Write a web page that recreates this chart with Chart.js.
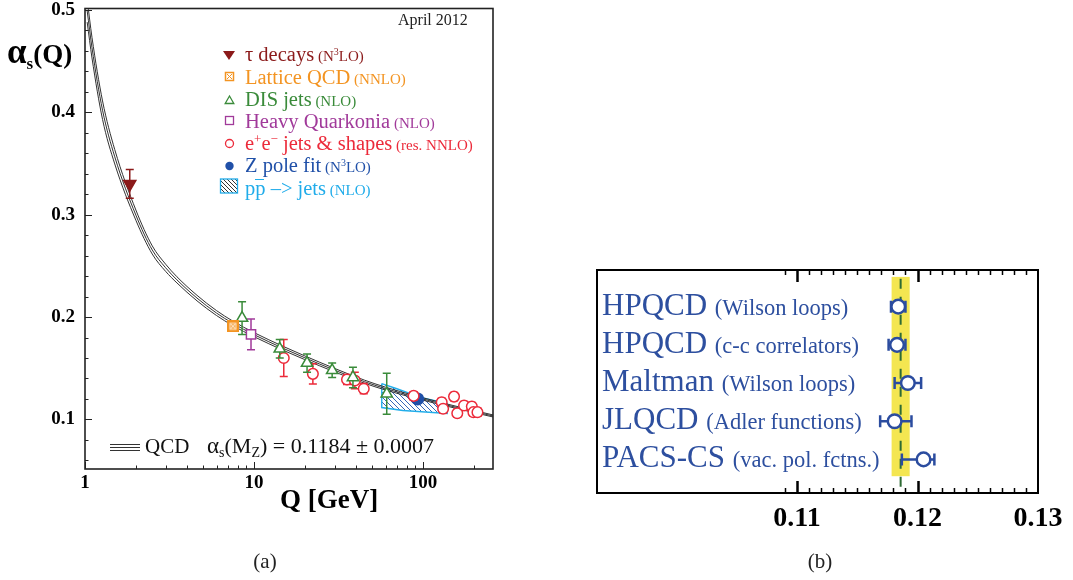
<!DOCTYPE html>
<html>
<head>
<meta charset="utf-8">
<script src="https://cdn.jsdelivr.net/npm/chart.js@4.4.1/dist/chart.umd.min.js"></script>
<style>
  body { margin: 0; background: #fff; width: 1073px; height: 580px; position: relative; overflow: hidden; }
  canvas { position: absolute; }
  #runChart { left: 0; top: 0; }
  #latticeChart { left: 560px; top: 250px; }
  #overlay { position: absolute; left: 0; top: 0; pointer-events: none; font-family: 'Liberation Serif', serif; }
</style>
</head>
<body>
<canvas id="runChart" width="520" height="530"></canvas>
<canvas id="latticeChart" width="513" height="290"></canvas>

<svg id="overlay" width="1073" height="580" xmlns="http://www.w3.org/2000/svg">
  <defs>
    <pattern id="legendHatch" width="4" height="4" patternUnits="userSpaceOnUse">
      <path d="M0 0 L4 4 M-1 3 L1 5 M3 -1 L5 1" stroke="#333" stroke-width="1"/>
    </pattern>
  </defs>

  <!-- axis titles -->
  <text x="7" y="63" font-weight="bold" fill="#000"><tspan font-size="35">α</tspan><tspan font-size="17" dy="6">s</tspan><tspan font-size="27" dy="-6">(Q)</tspan></text>
  <text x="280" y="508" font-size="27" font-weight="bold" fill="#000">Q [GeV]</text>
  <text x="398" y="25" font-size="16" fill="#222">April 2012</text>

  <!-- legend -->
  <polygon points="223,51 235,51 229,60" fill="#8b1a1a"/>
  <text x="245" y="61" fill="#8b1a1a"><tspan font-size="20.5">τ decays</tspan><tspan font-size="15"> (N</tspan><tspan font-size="10" dy="-6">3</tspan><tspan font-size="15" dy="6">LO)</tspan></text>

  <rect x="225.5" y="72.5" width="8" height="8" fill="none" stroke="#f39422" stroke-width="1.5"/>
  <path d="M227 74 L232 79 M232 74 L227 79" stroke="#f39422" stroke-width="1"/>
  <text x="245" y="84" fill="#f39422"><tspan font-size="20.5">Lattice QCD</tspan><tspan font-size="15"> (NNLO)</tspan></text>

  <polygon points="229.5,96 233.8,103.5 225.2,103.5" fill="none" stroke="#3a8b3a" stroke-width="1.3"/>
  <text x="245" y="105.5" fill="#3a8b3a"><tspan font-size="20.5">DIS jets</tspan><tspan font-size="15"> (NLO)</tspan></text>

  <rect x="225.5" y="116.5" width="8" height="8" fill="none" stroke="#a13a9a" stroke-width="1.3"/>
  <text x="245" y="128" fill="#a13a9a"><tspan font-size="20.5">Heavy Quarkonia</tspan><tspan font-size="15"> (NLO)</tspan></text>

  <circle cx="229.5" cy="143.5" r="4" fill="none" stroke="#ec2a3a" stroke-width="1.3"/>
  <text x="245" y="150" fill="#ec2a3a"><tspan font-size="20.5">e</tspan><tspan font-size="13" dy="-7">+</tspan><tspan font-size="20.5" dy="7">e</tspan><tspan font-size="13" dy="-7">−</tspan><tspan font-size="20.5" dy="7">  jets &amp; shapes</tspan><tspan font-size="15"> (res. NNLO)</tspan></text>

  <circle cx="229.5" cy="166" r="4.2" fill="#2050a8"/>
  <text x="245" y="172" fill="#2050a8"><tspan font-size="20.5">Z pole fit</tspan><tspan font-size="15"> (N</tspan><tspan font-size="10" dy="-6">3</tspan><tspan font-size="15" dy="6">LO)</tspan></text>

  <rect x="220.5" y="179" width="17" height="14" fill="url(#legendHatch)" stroke="#20acea" stroke-width="1.3"/>
  <line x1="255" y1="179.5" x2="264" y2="179.5" stroke="#20acea" stroke-width="1"/>
  <text x="245" y="195" fill="#20acea"><tspan font-size="20.5">pp –&gt; jets</tspan><tspan font-size="15"> (NLO)</tspan></text>

  <!-- curve key -->
  <path d="M110 444.5 H140 M110 447.5 H140 M110 450.5 H140" stroke="#333" stroke-width="1"/>
  <text x="145" y="453" font-size="21" fill="#111">QCD</text>
  <text x="207" y="453" fill="#111"><tspan font-size="23">α</tspan><tspan font-size="14" dy="4">s</tspan><tspan font-size="22" dy="-4">(M</tspan><tspan font-size="14" dy="4">Z</tspan><tspan font-size="22" dy="-4">) = 0.1184 ± 0.0007</tspan></text>

  <!-- captions -->
  <text x="265" y="568" font-size="21" text-anchor="middle" fill="#222">(a)</text>
  <text x="820" y="568" font-size="21" text-anchor="middle" fill="#222">(b)</text>

  <g id="latticeLabels"></g>
</svg>

<script>
// ---- panel (a): running coupling ----
const qcdQ   = [1.03, 1.1, 1.27, 1.5, 2.0, 2.5, 3.0, 3.5, 4.6, 6.0, 7.5, 10, 15, 20, 30, 45, 60, 91, 130, 180, 259.5];
const qcdUp  = [0.510, 0.473, 0.411, 0.3635, 0.3045, 0.2695, 0.2516, 0.2393, 0.2212, 0.2063, 0.1960, 0.1848, 0.1711, 0.1620, 0.1498, 0.1384, 0.1315, 0.1229, 0.1162, 0.1105, 0.1044];
const qcdMid = [0.499, 0.463, 0.402, 0.3565, 0.2995, 0.2655, 0.2481, 0.2363, 0.2185, 0.2039, 0.1938, 0.1828, 0.1692, 0.1602, 0.1481, 0.1369, 0.1301, 0.1217, 0.1151, 0.1095, 0.1034];
const qcdLow = [0.488, 0.453, 0.393, 0.3495, 0.2945, 0.2615, 0.2446, 0.2333, 0.2158, 0.2015, 0.1916, 0.1808, 0.1673, 0.1584, 0.1464, 0.1354, 0.1287, 0.1205, 0.1140, 0.1085, 0.1024];

const tauQ = [1.84],  tauAlpha = [0.330], tauErr = [0.014];
const latQ = [7.5],   latAlpha = [0.191];
const disQ = [8.5, 14.2, 20.6, 29.0, 38.5, 61];
const disAlpha = [0.199, 0.169, 0.155, 0.148, 0.141, 0.125];
const disErr = [0.016, 0.009, 0.009, 0.007, 0.010, 0.020];
const hqQ = [9.6], hqAlpha = [0.183], hqErr = [0.015];
const eeQ = [15.0, 22.3, 35.5, 39.5, 44.6, 88, 129, 131.5, 152.6, 159.5, 175, 194.5, 198.7, 210];
const eeAlpha = [0.160, 0.1445, 0.139, 0.138, 0.130, 0.123, 0.1168, 0.1104, 0.1223, 0.1061, 0.1136, 0.1126, 0.1071, 0.1071];
const eeErr = [0.018, 0.010, 0.005, 0.008, 0.005, 0.004, 0.004, 0.004, 0.004, 0.004, 0.004, 0.004, 0.004, 0.004];
const zQ = [93], zAlpha = [0.120];

// pp-bar jets band (upper and lower edge)
const ppUpQ = [57, 70, 82, 100, 139];
const ppUpAlpha = [0.135, 0.130, 0.126, 0.121, 0.1155];
const ppLowQ = [57, 76, 139];
const ppLowAlpha = [0.1116, 0.1087, 0.1058];

const runXTicks = [1, 10, 100];
const runYTicks = [0.1, 0.2, 0.3, 0.4, 0.5];

// ---- panel (b): lattice results ----
const latNames = ['HPQCD', 'HPQCD', 'Maltman', 'JLQCD', 'PACS-CS'];
const latNotes = ['(Wilson loops)', '(c-c correlators)', '(Wilson loops)', '(Adler functions)', '(vac. pol. fctns.)'];
const latValues = [0.1184, 0.1183, 0.1192, 0.1181, 0.1205];
const latErrLow = [0.0006, 0.0007, 0.0011, 0.0012, 0.0018];
const latErrHigh = [0.0006, 0.0007, 0.0011, 0.0014, 0.0009];
const latAverage = 0.1186, latAverageErr = 0.00075;
const latXTicks = [0.11, 0.12, 0.13];

Chart.defaults.font.family = "'Liberation Serif', serif";
Chart.defaults.color = '#000';

const xy = (xs, ys) => xs.map((x, i) => ({ x: x, y: ys[i] }));

function hatchPattern(color) {
  const c = document.createElement('canvas');
  c.width = 5; c.height = 5;
  const g = c.getContext('2d');
  g.strokeStyle = color;
  g.lineWidth = 1;
  g.beginPath();
  g.moveTo(0, 0); g.lineTo(5, 5);
  g.moveTo(-1, 4); g.lineTo(1, 6);
  g.moveTo(4, -1); g.lineTo(6, 1);
  g.stroke();
  return g.createPattern(c, 'repeat');
}

function latticeMarker() {
  const c = document.createElement('canvas');
  c.width = 12; c.height = 12;
  const g = c.getContext('2d');
  g.fillStyle = '#f39422';
  g.fillRect(0, 0, 12, 12);
  g.strokeStyle = '#fde3c4';
  g.lineWidth = 1.1;
  g.strokeRect(3, 3, 6, 6);
  g.beginPath();
  g.moveTo(3.5, 3.5); g.lineTo(8.5, 8.5);
  g.moveTo(8.5, 3.5); g.lineTo(3.5, 8.5);
  g.stroke();
  return c;
}

// error bars, drawn just before the markers of their dataset
const errorBars = {
  id: 'errorBars',
  beforeDatasetDraw(chart, args) {
    const ds = chart.data.datasets[args.index];
    if (!ds.errLow) return;
    const xs = chart.scales.x, ys = chart.scales.y, ctx = chart.ctx;
    const cap = ds.capSize || 4;
    ctx.save();
    ctx.strokeStyle = ds.errColor || ds.borderColor;
    ctx.lineWidth = ds.errWidth || 1.5;
    ds.data.forEach((p, i) => {
      ctx.beginPath();
      if (ds.errAxis === 'x') {
        const y = ys.getPixelForValue(p.y);
        const x1 = xs.getPixelForValue(p.x - ds.errLow[i]);
        const x2 = xs.getPixelForValue(p.x + ds.errHigh[i]);
        ctx.moveTo(x1, y); ctx.lineTo(x2, y);
        ctx.moveTo(x1, y - cap); ctx.lineTo(x1, y + cap);
        ctx.moveTo(x2, y - cap); ctx.lineTo(x2, y + cap);
      } else {
        const x = xs.getPixelForValue(p.x);
        const y1 = ys.getPixelForValue(p.y - ds.errLow[i]);
        const y2 = ys.getPixelForValue(p.y + ds.errHigh[i]);
        ctx.moveTo(x, y1); ctx.lineTo(x, y2);
        ctx.moveTo(x - cap, y1); ctx.lineTo(x + cap, y1);
        ctx.moveTo(x - cap, y2); ctx.lineTo(x + cap, y2);
      }
      ctx.stroke();
    });
    ctx.restore();
  }
};

// frame with inward ticks for panel (a)
const runFrame = {
  id: 'runFrame',
  afterDraw(chart) {
    const { ctx, chartArea: a, scales: { x, y } } = chart;
    ctx.save();
    ctx.strokeStyle = '#222';
    ctx.lineWidth = 1;
    ctx.beginPath();
    for (let d = 1; d <= 100; d *= 10) {
      for (let k = 1; k < 10; k++) {
        const v = d * k;
        if (v > x.max) break;
        const px = Math.round(x.getPixelForValue(v)) + 0.5;
        const len = k === 1 ? 7 : 3.5;
        ctx.moveTo(px, a.bottom); ctx.lineTo(px, a.bottom - len);
      }
    }
    for (let i = 3; i <= 25; i++) {
      const py = Math.round(y.getPixelForValue(i * 0.02)) + 0.5;
      const len = i % 5 === 0 ? 7 : 3.5;
      ctx.moveTo(a.left, py); ctx.lineTo(a.left + len, py);
    }
    ctx.stroke();
    ctx.lineWidth = 1.6;
    ctx.strokeRect(a.left, a.top, a.right - a.left, a.bottom - a.top);
    ctx.restore();
  }
};

const curveStyle = { type: 'line', pointRadius: 0, borderWidth: 1, borderColor: '#333', fill: false, cubicInterpolationMode: 'monotone', order: 20 };
const markerStyle = { type: 'line', showLine: false, borderWidth: 1.5, backgroundColor: '#fff', order: 0 };

new Chart(document.getElementById('runChart'), {
  type: 'line',
  data: {
    datasets: [
      { ...markerStyle, data: xy(tauQ, tauAlpha), pointStyle: 'triangle', rotation: 180, pointRadius: 7,
        borderColor: '#8b1a1a', backgroundColor: '#8b1a1a', errLow: tauErr, errHigh: tauErr },
      { ...markerStyle, data: xy(latQ, latAlpha), pointStyle: latticeMarker(), borderColor: '#f39422' },
      { ...markerStyle, data: xy(disQ, disAlpha), pointStyle: 'triangle', pointRadius: 6.5,
        borderColor: '#3a8b3a', errLow: disErr, errHigh: disErr },
      { ...markerStyle, data: xy(hqQ, hqAlpha), pointStyle: 'rect', pointRadius: 6.5,
        borderColor: '#a13a9a', errLow: hqErr, errHigh: hqErr },
      { ...markerStyle, data: xy(eeQ, eeAlpha), pointStyle: 'circle', pointRadius: 5.3,
        borderColor: '#ec2a3a', errLow: eeErr, errHigh: eeErr },
      { ...markerStyle, data: xy(zQ, zAlpha), pointStyle: 'circle', pointRadius: 5.8,
        borderColor: '#2050a8', backgroundColor: '#2050a8' },
      { ...curveStyle, data: xy(qcdQ, qcdUp) },
      { ...curveStyle, data: xy(qcdQ, qcdMid) },
      { ...curveStyle, data: xy(qcdQ, qcdLow) },
      { type: 'line', data: xy(ppUpQ, ppUpAlpha), pointRadius: 0, borderWidth: 0, borderColor: 'rgba(0,0,0,0)',
        fill: '+1', backgroundColor: hatchPattern('#3566b8'), order: 30 },
      { type: 'line', data: xy(ppLowQ, ppLowAlpha), pointRadius: 0, borderWidth: 0, borderColor: 'rgba(0,0,0,0)',
        fill: false, order: 31 },
      { type: 'line', pointRadius: 0, borderWidth: 1.4, borderColor: '#22aeea', fill: false, order: 29,
        data: xy(ppUpQ.concat(ppLowQ.slice().reverse(), [ppUpQ[0]]),
                 ppUpAlpha.concat(ppLowAlpha.slice().reverse(), [ppUpAlpha[0]])) }
    ]
  },
  options: {
    responsive: false,
    animation: false,
    events: [],
    layout: { padding: { left: 0, top: 5, right: 27, bottom: 0 } },
    plugins: { legend: { display: false }, tooltip: { enabled: false } },
    scales: {
      x: {
        type: 'logarithmic', min: 1, max: 259.5,
        grid: { display: false, drawTicks: false }, border: { display: false },
        ticks: { font: { size: 19, weight: 'bold' }, padding: 3, autoSkip: false, maxRotation: 0, callback: v => String(v) },
        afterBuildTicks: s => { s.ticks = runXTicks.map(v => ({ value: v })); },
        afterFit: s => { s.height = 61; s.paddingLeft = 0; s.paddingRight = 0; }
      },
      y: {
        type: 'linear', min: 0.0516, max: 0.5013,
        grid: { display: false, drawTicks: false }, border: { display: false },
        ticks: { font: { size: 19, weight: 'bold' }, padding: 10, callback: v => v.toFixed(1) },
        afterBuildTicks: s => { s.ticks = runYTicks.map(v => ({ value: v })); },
        afterFit: s => { s.width = 85; s.paddingTop = 0; s.paddingBottom = 0; }
      }
    }
  },
  plugins: [errorBars, runFrame]
});

// shaded average and dashed centre line for panel (b)
const averageBand = {
  id: 'averageBand',
  beforeDatasetsDraw(chart) {
    const { ctx, chartArea: a, scales: { x, y } } = chart;
    const x1 = x.getPixelForValue(latAverage - latAverageErr);
    const x2 = x.getPixelForValue(latAverage + latAverageErr);
    const top = y.getPixelForValue(0.22), bottom = y.getPixelForValue(5.44);
    ctx.save();
    ctx.fillStyle = '#f4e651';
    ctx.fillRect(x1, top, x2 - x1, bottom - top);
    const xc = x.getPixelForValue(latAverage);
    ctx.strokeStyle = '#2e6b34';
    ctx.lineWidth = 2;
    ctx.setLineDash([10, 8]);
    ctx.beginPath();
    ctx.moveTo(xc, top + 2);
    ctx.lineTo(xc, a.bottom - 5);
    ctx.stroke();
    ctx.restore();
  }
};

const latFrame = {
  id: 'latFrame',
  afterDraw(chart) {
    const { ctx, chartArea: a, scales: { x } } = chart;
    ctx.save();
    ctx.strokeStyle = '#000';
    for (let i = 109; i <= 129; i++) {
      const major = i % 10 === 0;
      const px = Math.round(x.getPixelForValue(i / 1000)) + 0.5;
      const len = major ? 12 : 5;
      ctx.lineWidth = major ? 2.5 : 1.5;
      ctx.beginPath();
      ctx.moveTo(px, a.bottom); ctx.lineTo(px, a.bottom - len);
      ctx.moveTo(px, a.top); ctx.lineTo(px, a.top + len);
      ctx.stroke();
    }
    ctx.lineWidth = 2;
    ctx.strokeRect(a.left, a.top, a.right - a.left, a.bottom - a.top);
    ctx.restore();
  }
};

const latRows = latValues.map((v, i) => i + 1);

const latChart = new Chart(document.getElementById('latticeChart'), {
  type: 'scatter',
  data: {
    datasets: [{
      data: xy(latValues, latRows),
      pointStyle: 'circle', pointRadius: 6.8, borderWidth: 2.5,
      borderColor: '#2b4c9f', backgroundColor: '#fff',
      errLow: latErrLow, errHigh: latErrHigh, errAxis: 'x', errWidth: 2.5, capSize: 6
    }]
  },
  options: {
    responsive: false,
    animation: false,
    events: [],
    layout: { padding: { left: 37, top: 20, right: 35, bottom: 0 } },
    plugins: { legend: { display: false }, tooltip: { enabled: false } },
    scales: {
      x: {
        type: 'linear', min: 0.0934, max: 0.13,
        grid: { display: false, drawTicks: false }, border: { display: false },
        ticks: { font: { size: 28, weight: 'bold' }, padding: 9, autoSkip: false, maxRotation: 0, callback: v => v.toFixed(2) },
        afterBuildTicks: s => { s.ticks = latXTicks.map(v => ({ value: v })); },
        afterFit: s => { s.height = 47; s.paddingLeft = 0; s.paddingRight = 0; }
      },
      y: { type: 'linear', display: false, reverse: true, min: 0.04, max: 5.88 }
    }
  },
  plugins: [averageBand, errorBars, latFrame]
});

// row labels placed on the rows of the lattice panel
const svgNS = 'http://www.w3.org/2000/svg';
const labelGroup = document.getElementById('latticeLabels');
const canvasTop = 250;
latRows.forEach((row, i) => {
  const y = canvasTop + latChart.scales.y.getPixelForValue(row) + 8;
  const t = document.createElementNS(svgNS, 'text');
  t.setAttribute('x', 602);
  t.setAttribute('y', y);
  t.setAttribute('fill', '#2d4f9f');
  const big = document.createElementNS(svgNS, 'tspan');
  big.setAttribute('font-size', 31);
  big.textContent = latNames[i] + ' ';
  const small = document.createElementNS(svgNS, 'tspan');
  small.setAttribute('font-size', 22.5);
  small.textContent = latNotes[i];
  t.appendChild(big);
  t.appendChild(small);
  labelGroup.appendChild(t);
});
</script>
</body>
</html>
